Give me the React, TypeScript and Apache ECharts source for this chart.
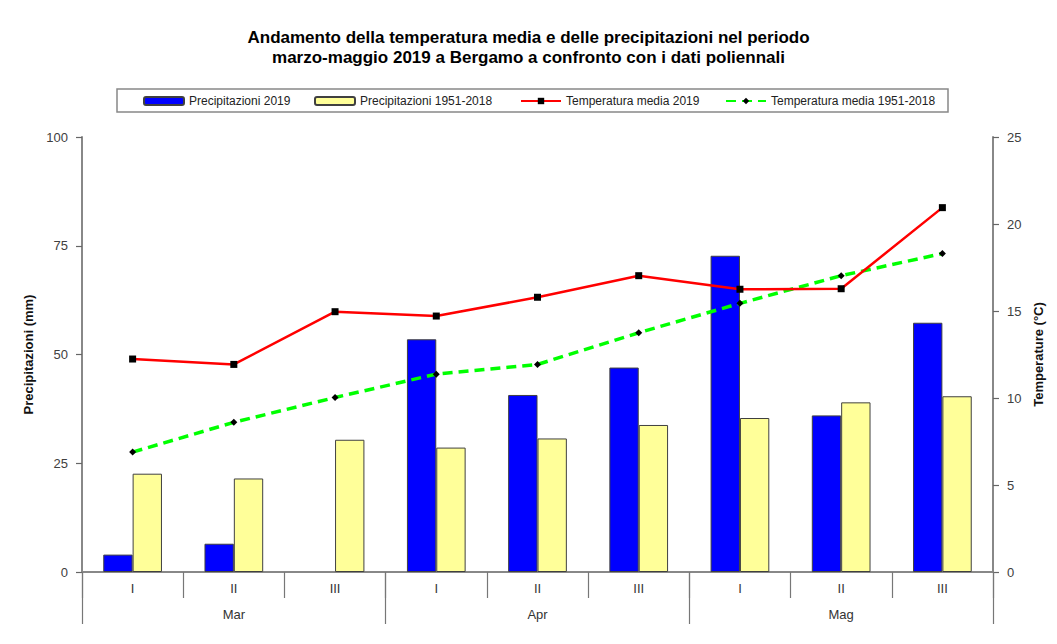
import React, { useEffect, useRef } from "react";
import * as echarts from "echarts";

const decadi = ["I", "II", "III", "I", "II", "III", "I", "II", "III"];
const mesi = ["Mar", "Apr", "Mag"];
const prec2019 = [4.0, 6.5, 0, 53.5, 40.7, 47.0, 72.7, 36.0, 57.3];
const precStorico = [22.6, 21.5, 30.4, 28.6, 30.7, 33.8, 35.4, 39.0, 40.4];
const temp2019 = [12.24, 11.93, 14.96, 14.71, 15.79, 17.03, 16.25, 16.28, 20.94];
const tempStorico = [6.89, 8.6, 10.03, 11.37, 11.93, 13.75, 15.44, 17.03, 18.3];

const FONT = "'Liberation Sans', Arial, sans-serif";

export default function App() {
  const ref = useRef<HTMLDivElement>(null);
  useEffect(() => {
    if (!ref.current) return;
    const chart = echarts.init(ref.current, undefined, { renderer: "svg" });
    const legendBase = {
      top: 95,
      padding: 0,
      itemWidth: 40,
      itemHeight: 8,
      textStyle: { fontFamily: FONT, fontSize: 12, color: "#222" },
      selectedMode: false,
    };
    const barItems = (vals: number[]) =>
      vals.map((v) => (v === 0 ? { value: v, itemStyle: { borderWidth: 0 } } : v));
    chart.setOption({
      animation: false,
      backgroundColor: "#fff",
      textStyle: { fontFamily: FONT },
      title: {
        text: "Andamento della temperatura media e delle precipitazioni nel periodo\nmarzo-maggio 2019 a Bergamo a confronto con i dati poliennali",
        left: "center",
        top: 22,
        textStyle: { fontFamily: FONT, fontSize: 17, fontWeight: "bold", color: "#000", lineHeight: 20 },
      },
      graphic: [
        {
          type: "rect",
          shape: { x: 117, y: 89, width: 831, height: 23 },
          style: { fill: "#fff", stroke: "#888", lineWidth: 1.5 },
          z: -1,
        },
      ],
      legend: [
        { ...legendBase, left: 143, data: ["Precipitazioni 2019"] },
        { ...legendBase, left: 314, data: ["Precipitazioni 1951-2018"] },
        { ...legendBase, left: 520, data: ["Temperatura media 2019"] },
        { ...legendBase, left: 725, data: ["Temperatura media 1951-2018"] },
      ],
      grid: { left: 82, right: 64, top: 137, bottom: 72 },
      xAxis: [
        {
          type: "category",
          data: decadi,
          position: "bottom",
          boundaryGap: true,
          axisLine: { show: true, lineStyle: { color: "#888", width: 2 } },
          axisTick: { show: true, interval: 0, length: 26, lineStyle: { color: "#777", width: 1.2 } },
          axisLabel: { interval: 0, margin: 10, fontSize: 13, color: "#333", fontFamily: FONT },
          splitLine: { show: false },
        },
        {
          type: "category",
          data: mesi,
          position: "bottom",
          boundaryGap: true,
          axisLine: { show: false },
          axisTick: { show: true, interval: 0, length: 52, lineStyle: { color: "#777", width: 1.2 } },
          axisLabel: { interval: 0, margin: 36, fontSize: 13, color: "#333", fontFamily: FONT },
          splitLine: { show: false },
        },
      ],
      yAxis: [
        {
          type: "value",
          min: 0,
          max: 100,
          interval: 25,
          position: "left",
          name: "Precipitazioni (mm)",
          nameLocation: "middle",
          nameGap: 43,
          nameRotate: 90,
          nameTextStyle: { fontFamily: FONT, fontSize: 13, fontWeight: "bold", color: "#111" },
          axisLine: { show: true, lineStyle: { color: "#888", width: 2 } },
          axisTick: { show: true, length: 6, lineStyle: { color: "#666", width: 1.2 } },
          axisLabel: { margin: 14, fontSize: 13, color: "#404040", fontFamily: FONT },
          splitLine: { show: false },
        },
        {
          type: "value",
          min: 0,
          max: 25,
          interval: 5,
          position: "right",
          name: "Temperature (°C)",
          nameLocation: "middle",
          nameGap: 33,
          nameRotate: 90,
          nameTextStyle: { fontFamily: FONT, fontSize: 13, fontWeight: "bold", color: "#111" },
          axisLine: { show: true, lineStyle: { color: "#888", width: 2 } },
          axisTick: { show: true, length: 6, lineStyle: { color: "#666", width: 1.2 } },
          axisLabel: { margin: 14, fontSize: 13, color: "#404040", fontFamily: FONT },
          splitLine: { show: false },
        },
      ],
      series: [
        {
          name: "Precipitazioni 2019",
          type: "bar",
          xAxisIndex: 0,
          yAxisIndex: 0,
          data: barItems(prec2019),
          barGap: "0%",
          barCategoryGap: "42%",
          itemStyle: { color: "#0000ff", borderColor: "#404040", borderWidth: 1 },
        },
        {
          name: "Precipitazioni 1951-2018",
          type: "bar",
          xAxisIndex: 0,
          yAxisIndex: 0,
          data: barItems(precStorico),
          barGap: "0%",
          barCategoryGap: "42%",
          itemStyle: { color: "#ffff99", borderColor: "#404040", borderWidth: 1 },
        },
        {
          name: "Temperatura media 2019",
          type: "line",
          xAxisIndex: 0,
          yAxisIndex: 1,
          data: temp2019,
          symbol: "rect",
          symbolSize: 7,
          itemStyle: { color: "#000" },
          lineStyle: { color: "#ff0000", width: 2.5 },
          z: 5,
        },
        {
          name: "Temperatura media 1951-2018",
          type: "line",
          xAxisIndex: 0,
          yAxisIndex: 1,
          data: tempStorico,
          symbol: "diamond",
          symbolSize: 7,
          itemStyle: { color: "#000" },
          lineStyle: { color: "#00ff00", width: 3.5, type: [10, 6] },
          z: 4,
        },
      ],
    });
    return () => chart.dispose();
  }, []);
  return (
    <div
      ref={ref}
      style={{ position: "absolute", left: 0, top: 0, width: 1057, height: 644 }}
    />
  );
}
